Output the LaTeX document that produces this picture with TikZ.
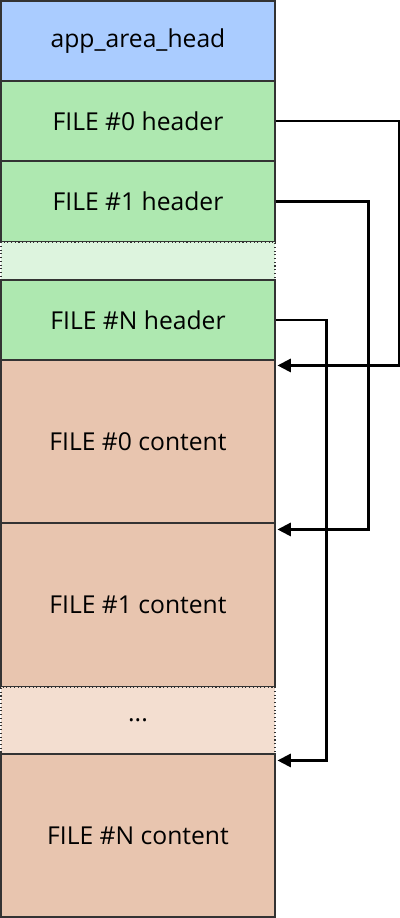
\documentclass[tikz,border=0pt]{standalone}
\usepackage{fontspec}
\setmainfont{Open Sans}
\usetikzlibrary{calc,arrows.meta}
\definecolor{headblue}{RGB}{170,204,255}
\definecolor{hdrgreen}{RGB}{174,232,176}
\definecolor{hdrgreenlt}{RGB}{221,244,222}
\definecolor{cntpeach}{RGB}{232,197,175}
\definecolor{cntpeachlt}{RGB}{243,222,208}
\tikzset{
  block/.style={draw=black!80, line width=0.8pt, minimum width=274*0.75pt, minimum height=#1*0.75pt, inner sep=0pt, font=\fontsize{18.5pt}{22pt}\selectfont},
  gapblock/.style={block=#1, dotted},
  link/.style={line width=1.6pt, -{Triangle[length=10pt,width=10pt]}}
}
\begin{document}
\begin{tikzpicture}[x=0.75pt, y=-0.75pt]
			%%%%% START %%%%%
			\useasboundingbox (0, 0) rectangle (400, 918);
			
			\node[block=80, fill=headblue] (apphead) at (138, 41) {app\_area\_head};
			\node[block=80, fill=hdrgreen] (hdr0) at (138, 121) {FILE \#0 header};
			\node[block=81, fill=hdrgreen] (hdr1) at (138, 201.5) {FILE \#1 header};
			\node[gapblock=38, fill=hdrgreenlt] (hdrgap) at (138, 261) {};
			\node[block=80, fill=hdrgreen] (hdrN) at (138, 320) {FILE \#N header};
			
			\node[block=163, fill=cntpeach] (cnt0) at (138, 441.5) {FILE \#0 content};
			\node[block=164, fill=cntpeach] (cnt1) at (138, 605) {FILE \#1 content};
			\node[gapblock=67, fill=cntpeachlt] (cntgap) at (138, 720.5) {...};
			\node[block=163, fill=cntpeach] (cntN) at (138, 835.5) {FILE \#N content};
			
			\coordinate (in0) at ($(cnt0.north east)+(2, 6)$);
			\coordinate (in1) at ($(cnt1.north east)+(2, 7)$);
			\coordinate (inN) at ($(cntN.north east)+(2, 7)$);
			
			\draw[link] (hdr0.east) -- ++(124, 0) |- (in0);
			\draw[link] (hdr1.east) -- ++(93, 0) |- (in1);
			\draw[link] (hdrN.east) -- ++(51, 0) |- (inN);
			
			%%%%% END %%%%%
		\end{tikzpicture}
\end{document}
